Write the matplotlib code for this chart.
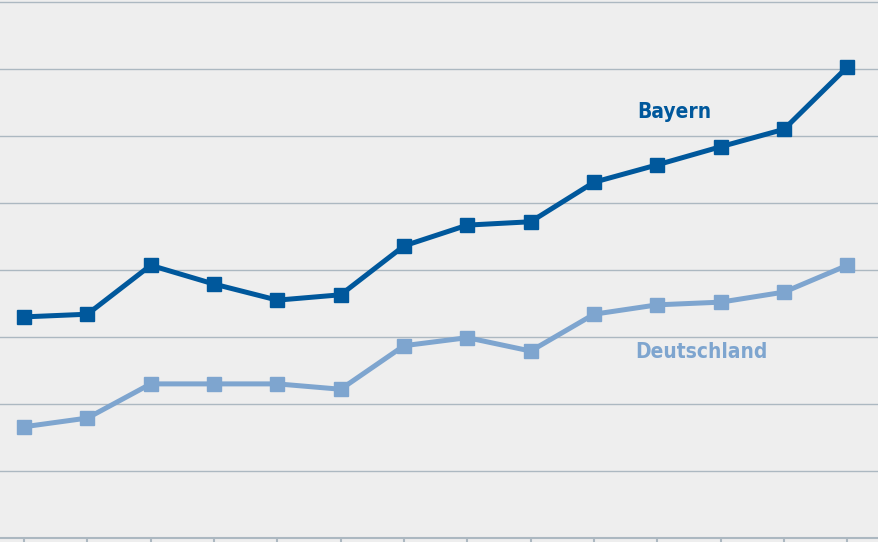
import matplotlib.pyplot as plt
import numpy as np

# index values per year, one entry per point
years = list(range(2000, 2014))
bayern = [3.30, 3.34, 4.07, 3.79, 3.55, 3.63, 4.36, 4.67, 4.72, 5.31, 5.57, 5.84, 6.10, 7.03]
deutschland = [1.66, 1.79, 2.30, 2.30, 2.30, 2.22, 2.87, 2.99, 2.79, 3.34, 3.48, 3.52, 3.67, 4.07]

col_by = "#00589c"
col_de = "#7ea5cf"
bg = "#eeeeee"
grid = "#acb8c1"

fig = plt.figure(figsize=(8.79, 5.42), dpi=100, facecolor=bg)
ax = fig.add_axes([0, 0, 1, 1])
ax.set_facecolor(bg)

x = np.arange(len(years))
ax.plot(x, deutschland, color=col_de, lw=3.6, marker="s", ms=10.5, zorder=3)
ax.plot(x, bayern, color=col_by, lw=3.6, marker="s", ms=10.5, zorder=4)

ax.set_xlim(-0.38, 13.5)
ax.set_ylim(-0.06, 8.03)
ax.set_yticks(np.arange(1, 9))
ax.yaxis.grid(True, color=grid, lw=1.0)
ax.set_axisbelow(True)
ax.tick_params(axis="y", length=0, labelleft=False)
ax.set_xticks(x)
ax.tick_params(axis="x", direction="out", length=6, width=1.5, color=grid, labelbottom=False, pad=0)
for s in ["top", "right", "left"]:
    ax.spines[s].set_visible(False)
ax.spines["bottom"].set_color(grid)
ax.spines["bottom"].set_linewidth(1.5)
ax.spines["bottom"].set_position(("data", 0))

ax.text(10.27, 6.36, "Bayern", color=col_by, fontsize=15, fontweight="bold",
        family="DejaVu Sans", fontstretch="condensed", ha="center", va="center")
ax.text(10.69, 2.78, "Deutschland", color=col_de, fontsize=15, fontweight="bold",
        family="DejaVu Sans", fontstretch="condensed", ha="center", va="center")

fig.savefig("out.png", dpi=100, facecolor=bg)
